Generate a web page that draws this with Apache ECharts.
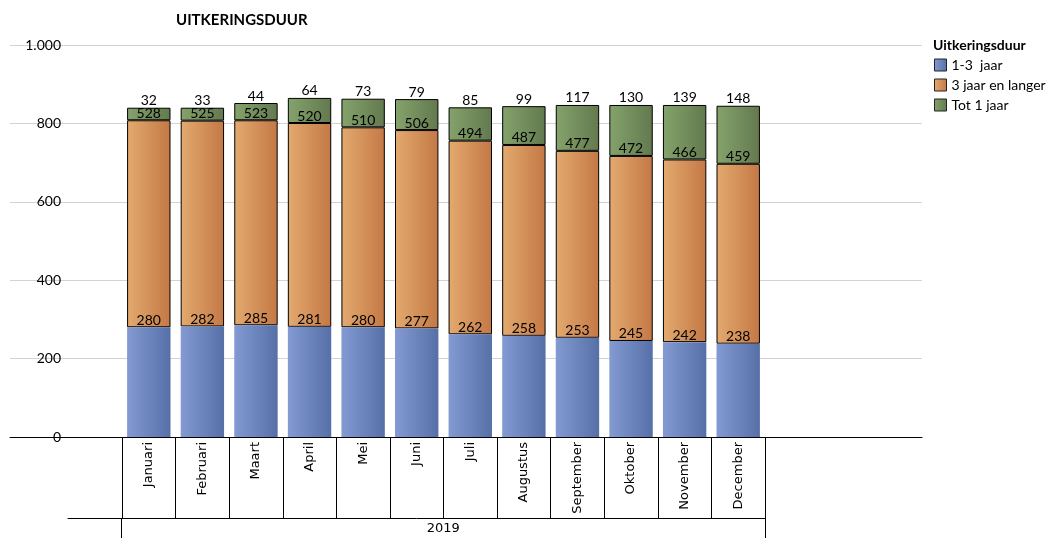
<!DOCTYPE html>
<html>
<head>
<meta charset="utf-8">
<script src="https://cdn.jsdelivr.net/npm/echarts@6/dist/echarts.min.js"></script>
<style>
  html, body { margin: 0; padding: 0; background: #fff; }
  #chart { width: 1055px; height: 538px; }
</style>
</head>
<body>
<div id="chart"></div>
<script>
// data
var months = ["Januari", "Februari", "Maart", "April", "Mei", "Juni", "Juli",
  "Augustus", "September", "Oktober", "November", "December"];
var yearLabel = "2019";
var seriesNames = ["1-3  jaar", "3 jaar en langer", "Tot 1 jaar"];
var eenTotDrie = [280, 282, 285, 281, 280, 277, 262, 258, 253, 245, 242, 238];
var drieEnLanger = [528, 525, 523, 520, 510, 506, 494, 487, 477, 472, 466, 459];
var totEenJaar = [32, 33, 44, 64, 73, 79, 85, 99, 117, 130, 139, 148];
var yTicks = [0, 200, 400, 600, 800, 1000];

function grad(a, b) {
  return new echarts.graphic.LinearGradient(0, 0, 1, 0, [
    { offset: 0, color: a },
    { offset: 1, color: b }
  ]);
}

var labelFont = "Lato, 'Open Sans', sans-serif";

function barSeries(name, data, c1, c2, border, z) {
  return {
    name: name,
    type: "bar",
    stack: "duur",
    xAxisIndex: 0,
    yAxisIndex: 0,
    z: z,
    barCategoryGap: "19%",
    data: data,
    itemStyle: {
      color: grad(c1, c2),
      borderColor: border ? "#000" : grad(c1, c2),
      borderWidth: border ? 1 : 0
    },
    label: {
      show: true,
      position: "top",
      distance: 0,
      color: "#000",
      fontSize: 14,
      fontFamily: labelFont
    },
    emphasis: { disabled: true }
  };
}

var chart = echarts.init(document.getElementById("chart"));
var option = {
  animation: false,
  backgroundColor: "#fff",
  title: [
    {
      text: "UITKERINGSDUUR",
      left: 171,
      top: 8,
      textStyle: { fontSize: 15, fontWeight: "bold", color: "#000", fontFamily: labelFont }
    },
    {
      text: "Uitkeringsduur",
      left: 928,
      top: 33,
      textStyle: { fontSize: 14, fontWeight: "bold", color: "#000", fontFamily: labelFont }
    }
  ],
  legend: {
    orient: "vertical",
    left: 934,
    top: 58,
    padding: 0,
    itemWidth: 12,
    itemHeight: 12,
    itemGap: 6,
    icon: "rect",
    data: seriesNames,
    itemStyle: { borderColor: "#222", borderWidth: 1 },
    textStyle: { fontSize: 14, color: "#000", fontFamily: labelFont, padding: [0, 0, 0, 0] }
  },
  grid: [
    // bars
    { left: 122, right: 290, top: 45, bottom: 101, containLabel: false },
    // gridlines + value labels
    { left: 10, right: 133, top: 45, bottom: 101, containLabel: false },
    // year row
    { left: 68, right: 290, top: 45, bottom: 101, containLabel: false }
  ],
  xAxis: [
    {
      type: "category",
      gridIndex: 0,
      data: months,
      axisLine: { show: false },
      axisTick: { show: true, length: 81, lineStyle: { color: "#000", width: 1 } },
      axisLabel: {
        interval: 0,
        rotate: 90,
        margin: 5,
        color: "#000",
        fontSize: 13,
        fontFamily: "'DejaVu Sans', sans-serif"
      }
    },
    {
      type: "value",
      gridIndex: 1,
      min: 0,
      max: 1,
      axisLine: { show: true, onZero: false, lineStyle: { color: "#000", width: 1 } },
      axisTick: { show: false },
      axisLabel: { show: false },
      splitLine: { show: false }
    },
    {
      type: "value",
      gridIndex: 2,
      min: -1,
      max: 12,
      position: "bottom",
      offset: 81,
      axisLine: { show: true, onZero: false, lineStyle: { color: "#000", width: 1 } },
      axisTick: { show: true, length: 20, customValues: [0, 12], lineStyle: { color: "#000", width: 1 } },
      axisLabel: {
        customValues: [6],
        formatter: function () { return yearLabel; },
        margin: 4,
        color: "#000",
        fontSize: 13,
        fontFamily: "'DejaVu Sans', sans-serif"
      },
      splitLine: { show: false }
    }
  ],
  yAxis: [
    { type: "value", gridIndex: 0, min: 0, max: 1000, interval: 200, show: false },
    {
      type: "value",
      gridIndex: 1,
      min: 0,
      max: 1000,
      interval: 200,
      axisLine: { show: false },
      axisTick: { show: false },
      splitLine: { show: true, lineStyle: { color: "#d3d3d3", width: 1 } },
      axisLabel: {
        inside: true,
        align: "right",
        margin: 51,
        color: "#000",
        fontSize: 14,
        fontFamily: labelFont,
        customValues: yTicks,
        formatter: function (v) {
          return String(v).replace(/\B(?=(\d{3})+(?!\d))/g, ".");
        }
      }
    },
    { type: "value", gridIndex: 2, min: 0, max: 1000, show: false }
  ],
  series: [
    barSeries(seriesNames[0], eenTotDrie, "#839ad2", "#5670a7", false, 5),
    barSeries(seriesNames[1], drieEnLanger, "#e3aa6f", "#c47845", true, 4),
    barSeries(seriesNames[2], totEenJaar, "#85a36c", "#62794e", true, 3)
  ]
};
chart.setOption(option);
</script>
</body>
</html>
